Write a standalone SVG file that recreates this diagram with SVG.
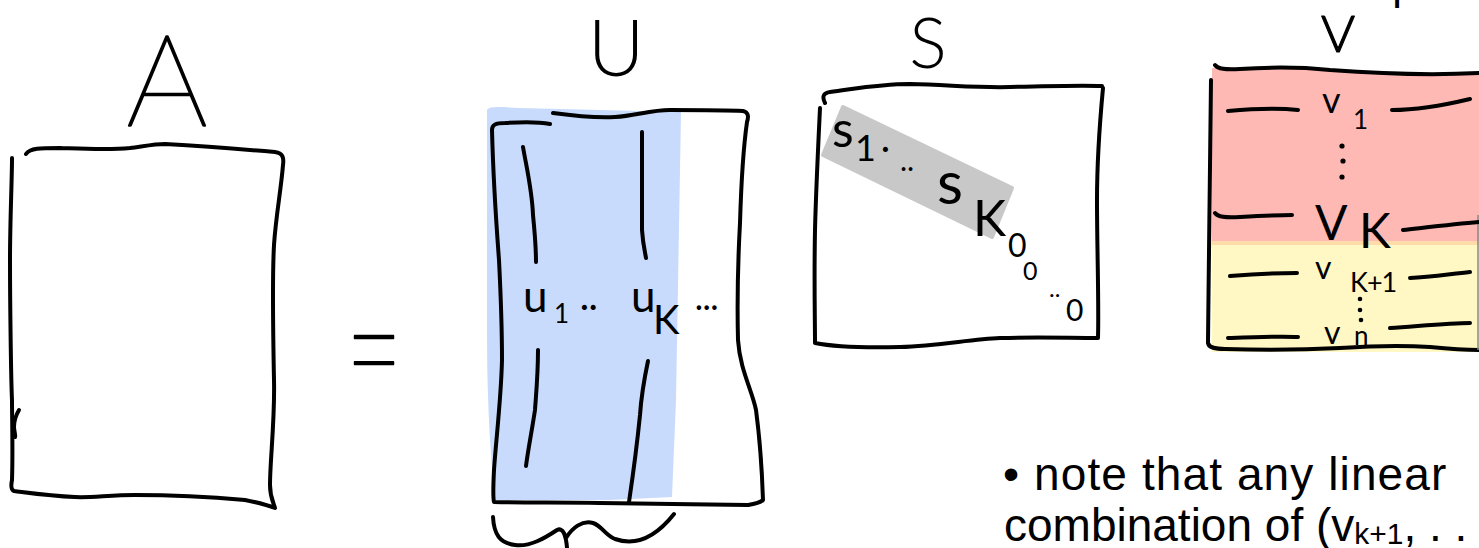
<svg xmlns="http://www.w3.org/2000/svg" width="1479" height="548" viewBox="0 0 1479 548">
<style>
.ink{fill:none;stroke:#000;stroke-width:4;stroke-linecap:round;stroke-linejoin:round}
.hand{font-family:Lato,"DejaVu Sans",sans-serif;fill:#000}
.thin{font-weight:200;stroke:#000;stroke-linejoin:round}
.light{font-weight:300}
.sm{font-weight:400}
.dot{fill:#000}
.note{font-family:"Liberation Sans",Arial,sans-serif;fill:#000;font-size:46px}
</style>
<rect width="1479" height="548" fill="#fff"/>

<g id="A">
<path class="ink" d="M26,154 C30,148 40,148 60,148 C90,149 110,150 130,148 C145,146 155,144 165,144 C200,146 240,149 275,152 C283,153 284,158 283,165 C281,190 276,215 274,245 C272,280 273,330 274,380 C275,420 270,460 270,485 C270,498 274,504 275,508 C265,504 255,502 245,500 C200,496 170,495 135,495 C110,495 90,498 75,497 C50,496 30,493 14,491 C11,490 11,485 12,480 C13,450 12,420 12,400 C11,380 10,300 10,260 C10,220 12,180 12,158"/>
<path class="ink" d="M19,410 C16,415 14,420 14,427 C14,432 16,435 15,437"/>
<text class="hand thin" x="167" y="126" font-size="128" text-anchor="middle" stroke-width="2.2">A</text>
</g>

<g id="equals">
<text class="hand thin" font-size="130" text-anchor="middle" stroke-width="2" transform="translate(374,410) scale(0.75,1.35)">=</text>
</g>

<g id="U">
<path d="M487,110 C490,106 500,107 520,108 L681,112 L676,400 L672,497 L610,500 L495,500 C490,450 487,400 487,330 Z" fill="#c9dbfc"/>
<path class="ink" d="M550,124 C540,122 520,122 505,123 C495,123 492,125 492,130 C493,170 496,220 499,260 C501,300 502,330 502,360 C501,400 496,440 494,470 C493,490 493,498 494,502 C530,503 560,502 600,503 C640,504 700,504 748,505"/>
<path class="ink" d="M553,113 C575,116 595,118 615,117 C635,116 650,110 670,110 C700,110 725,110 743,111 C748,112 749,116 747,122 C743,150 741,190 740,223 C738,260 737,300 738,340 C740,370 752,390 756,410 C760,440 762,470 763,500 C760,503 755,504 748,505"/>
<path class="ink" d="M523,147 C527,170 532,190 533,215 C535,235 536,250 536,262"/>
<path class="ink" d="M642,132 L642,230 C643,245 645,252 646,258"/>
<path class="ink" d="M538,350 C538,375 536,395 535,410 C532,430 528,450 526,466"/>
<path class="ink" d="M648,361 C644,380 641,400 640,415 C637,445 633,475 629,502"/>
<path class="ink" d="M493,517 C494,535 500,543 515,545 C530,547 545,538 557,530 C563,527 566,535 567,548 M566,538 C572,528 582,520 593,523 C602,526 605,535 615,539 C635,546 655,538 674,514"/>
<text class="hand light" x="616" y="76" font-size="78" text-anchor="middle">U</text>
<text class="hand sm" x="523" y="312" font-size="44">u</text>
<text class="hand sm" x="554" y="323" font-size="26">1</text>
<text class="hand sm" x="580" y="318" font-size="34">··</text>
<text class="hand sm" x="631" y="312" font-size="44">u</text>
<text class="hand sm" x="653" y="334" font-size="40">K</text>
<text class="hand sm" x="695" y="317" font-size="30">···</text>
</g>

<g id="S">
<path d="M843,107 L1012,188 L992,237 L823,155 Z" fill="#c8c8c8" stroke="#c8c8c8" stroke-width="4" stroke-linejoin="round"/>
<path class="ink" d="M825,103 C822,97 823,93 830,92 C860,88 880,84 910,84 C950,85 980,88 1010,87 C1050,86 1080,85 1102,86"/>
<path class="ink" d="M820,108 C818,150 816,190 815,230 C814,280 815,320 815,343 C830,346 860,348 900,347 C940,346 970,339 1000,338 C1040,337 1070,338 1098,338 C1099,300 1097,250 1097,200 C1097,160 1100,120 1103,88"/>
<text class="hand light" x="928" y="68" font-size="70" text-anchor="middle">S</text>
<text class="hand sm" x="832" y="147" font-size="50">s</text>
<text class="hand sm" x="855" y="161" font-size="36">1</text>
<text class="hand sm" x="881" y="160" font-size="34">·</text>
<text class="hand sm" x="900" y="171" font-size="30">..</text>
<text class="hand sm" x="937" y="204" font-size="60">s</text>
<text class="hand sm" x="973" y="236" font-size="50">K</text>
<text class="hand sm" x="1008" y="257" font-size="32">0</text>
<text class="hand sm" x="1023" y="280" font-size="25">0</text>
<text class="hand sm" x="1049" y="297" font-size="24">..</text>
<text class="hand sm" x="1066" y="321" font-size="30">0</text>
</g>

<g id="VT">
<path d="M1212,68 C1250,68 1290,67 1330,70 C1380,74 1420,75 1479,73 L1479,244 L1212,244 Z" fill="#ffb9b5"/>
<path d="M1212,244 L1479,244 L1479,352 L1212,352 Z" fill="#fff8c5"/>
<rect x="1212" y="241" width="267" height="4" fill="#fedba8"/>
<path class="ink" d="M1215,65 C1218,69 1225,70 1240,69 C1270,67 1300,67 1330,70 C1370,73 1420,76 1479,73"/>
<path class="ink" d="M1211,80 C1210,150 1209,250 1208,343 C1209,348 1215,349 1225,349 C1260,350 1300,350 1340,348 C1370,346 1400,345 1430,347 C1450,349 1465,350 1479,350"/>
<path d="M1478,215 L1478,350" stroke="#888" stroke-width="1.5" fill="none"/>
<path class="ink" d="M1228,111 C1250,109 1280,108 1298,110 M1392,110 C1420,110 1445,105 1470,99"/>
<path class="ink" d="M1215,213 C1218,217 1225,218 1240,217 C1260,216 1280,215 1292,215 M1403,230 C1430,227 1455,224 1479,222"/>
<path class="ink" d="M1230,276 C1255,274 1280,273 1297,273 M1410,278 C1430,277 1450,274 1470,272"/>
<path class="ink" d="M1228,338 C1255,337 1280,336 1298,337 M1390,328 C1420,326 1450,323 1470,323"/>
<text class="hand light" x="1338" y="52" font-size="52" text-anchor="middle" stroke="#000" stroke-width="1.2" stroke-linejoin="round">V</text>
<text class="hand sm" x="1397" y="8" font-size="40" text-anchor="middle">T</text>
<text class="hand sm" x="1322" y="113" font-size="36">v</text>
<text class="hand sm" x="1353" y="129" font-size="26">1</text>
<circle class="dot" cx="1342" cy="146" r="2.6"/>
<circle class="dot" cx="1343" cy="161" r="2.6"/>
<circle class="dot" cx="1342" cy="177" r="2.6"/>
<text class="hand sm" x="1315" y="240" font-size="48">V</text>
<text class="hand sm" x="1359" y="248" font-size="48">K</text>
<text class="hand sm" x="1315" y="279" font-size="32">v</text>
<text class="hand sm" x="1350" y="292" font-size="27" letter-spacing="-1">K+1</text>
<circle class="dot" cx="1360" cy="299" r="2.3"/>
<circle class="dot" cx="1360" cy="310" r="2.3"/>
<circle class="dot" cx="1361" cy="320" r="2.3"/>
<text class="hand sm" x="1324" y="344" font-size="32">v</text>
<text class="hand sm" x="1354" y="345" font-size="26">n</text>
</g>

<g id="note">
<text class="note" x="1003" y="490" letter-spacing="1.1">• note that any linear</text>
<text class="note" x="1004" y="541">combination of (v<tspan font-size="30" dy="3">k+1</tspan><tspan dy="-3">, . .</tspan></text>
</g>
<g id="connectors"></g>
</svg>
